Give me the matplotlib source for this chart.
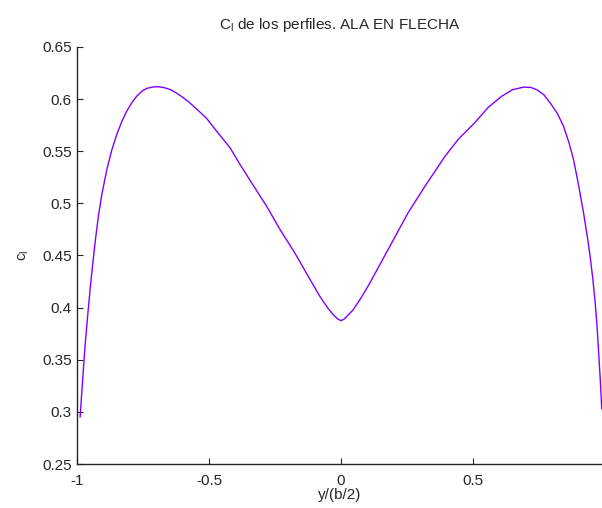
import numpy as np
import matplotlib.pyplot as plt
from matplotlib.ticker import FormatStrFormatter

plt.rcParams['font.family'] = ['Liberation Sans', 'DejaVu Sans']
plt.rcParams['mathtext.default'] = 'regular'

# spanwise station y/(b/2) and section lift coefficient c_l
eta = [-0.99, -0.985, -0.98, -0.975, -0.97, -0.96, -0.95, -0.94, -0.93, -0.92,
       -0.908, -0.889, -0.87, -0.851, -0.832, -0.813, -0.794, -0.775, -0.756, -0.737,
       -0.715, -0.693, -0.671, -0.649, -0.624, -0.598, -0.573, -0.548, -0.51, -0.472,
       -0.421, -0.383, -0.339, -0.282, -0.231, -0.175, -0.124, -0.08, -0.05, -0.029,
       -0.012, 0.0, 0.012, 0.0455, 0.075, 0.109, 0.178, 0.254, 0.318, 0.394,
       0.444, 0.507, 0.558, 0.608, 0.65, 0.692, 0.72, 0.743, 0.77, 0.793,
       0.82, 0.844, 0.865, 0.882, 0.9, 0.92, 0.935, 0.945, 0.955, 0.964,
       0.971, 0.9765, 0.983, 0.989]
cl = [0.2952, 0.314, 0.332, 0.35, 0.367, 0.396, 0.423, 0.447, 0.469, 0.489,
      0.508, 0.532, 0.551, 0.566, 0.5785, 0.5885, 0.5965, 0.6029, 0.6075, 0.6103,
      0.6116, 0.6119, 0.611, 0.6093, 0.6058, 0.6013, 0.5962, 0.5905, 0.5815, 0.5692,
      0.5533, 0.5372, 0.5196, 0.4971, 0.4747, 0.4523, 0.4298, 0.4106, 0.3995, 0.393,
      0.389, 0.3875, 0.389, 0.3978, 0.409, 0.4235, 0.4555, 0.4908, 0.5163, 0.545,
      0.5613, 0.5773, 0.592, 0.6025, 0.609, 0.6115, 0.6112, 0.609, 0.604, 0.5965,
      0.5865, 0.574, 0.558, 0.542, 0.519, 0.4908, 0.467, 0.449, 0.428, 0.405,
      0.383, 0.36, 0.333, 0.303]

xticks = [-1, -0.5, 0, 0.5]
yticks = [0.25, 0.3, 0.35, 0.4, 0.45, 0.5, 0.55, 0.6, 0.65]

fig = plt.figure(figsize=(6.02, 5.08), dpi=100)
ax = fig.add_axes([0.1287, 0.0866, 0.8713, 0.8209])

ax.plot(eta, cl, color='#8000ff', lw=1.0)

ax.set_xlim(-1, 0.99)
ax.set_ylim(0.25, 0.65)
ax.set_xticks(xticks)
ax.set_yticks(yticks)
ax.xaxis.set_major_formatter(FormatStrFormatter('%g'))
ax.yaxis.set_major_formatter(FormatStrFormatter('%g'))

for s in ['top', 'right']:
    ax.spines[s].set_visible(False)
for s in ['left', 'bottom']:
    ax.spines[s].set_color('#262626')
    ax.spines[s].set_linewidth(1.0)
ax.tick_params(direction='in', length=4, width=0.8, colors='#262626',
               labelsize=11, pad=4)
ax.tick_params(axis='x', pad=7)

ax.set_title('C$_l$ de los perfiles. ALA EN FLECHA', fontsize=11,
             color='#262626', pad=13)
ax.set_xlabel('y/(b/2)', fontsize=11, color='#262626', labelpad=0)
ax.set_ylabel('c$_l$', fontsize=11, color='#262626', labelpad=8)

fig.savefig('out.png', dpi=100)
